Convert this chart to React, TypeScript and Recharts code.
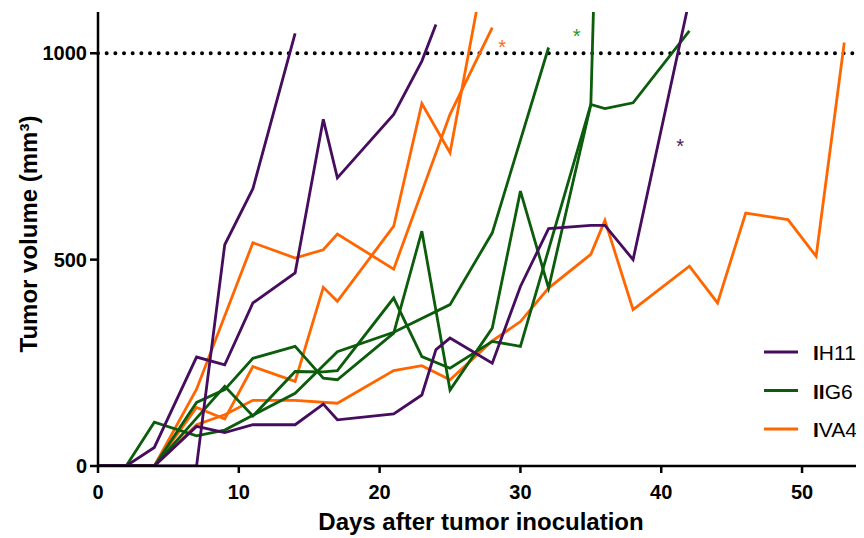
import React from 'react';
import { LineChart, Line, XAxis, YAxis, ReferenceLine, ReferenceDot, Legend, Label } from 'recharts';

const FONT = '"Liberation Sans", Arial, Helvetica, sans-serif';
const PURPLE = '#460c5e';
const GREEN = '#0b5c0b';
const ORANGE = '#ff6600';

// IH11 (purple)
const ih11aDays = [0, 2, 4, 7, 9, 11, 14];
const ih11aVol = [0, 0, 0, 0, 536, 672, 1048];
const ih11bDays = [0, 2, 4, 7, 9, 11, 14, 16, 17, 21, 23, 24];
const ih11bVol = [0, 0, 45, 264, 245, 395, 468, 840, 698, 852, 981, 1070];
const ih11cDays = [0, 2, 4, 7, 9, 11, 14, 16, 17, 21, 23, 24, 25, 28, 30, 32, 35, 36, 38, 42];
const ih11cVol = [0, 0, 0, 96, 81, 100, 100, 150, 112, 126, 172, 282, 310, 249, 435, 575, 583, 583, 500, 1130];

// IIG6 (green)
const iig6aDays = [0, 2, 4, 7, 9, 11, 14, 17, 21, 25, 28, 32];
const iig6aVol = [0, 0, 106, 73, 87, 123, 176, 277, 324, 391, 565, 1014];
const iig6bDays = [0, 2, 4, 7, 9, 11, 14, 16, 17, 21, 23, 25, 28, 30, 32, 35, 36];
const iig6bVol = [0, 0, 0, 154, 185, 261, 290, 213, 209, 322, 569, 184, 334, 666, 431, 876, 2100];
const iig6cDays = [0, 2, 4, 7, 9, 11, 14, 16, 17, 21, 23, 25, 28, 30, 35, 36, 38, 42];
const iig6cVol = [0, 0, 0, 116, 193, 121, 229, 228, 231, 407, 265, 237, 302, 290, 876, 866, 880, 1054];

// IVA4 (orange)
const iva4aDays = [0, 2, 4, 7, 11, 14, 16, 17, 21, 25, 28];
const iva4aVol = [0, 0, 0, 186, 541, 504, 524, 562, 477, 852, 1062];
const iva4bDays = [0, 2, 4, 7, 9, 11, 14, 16, 17, 21, 23, 25, 27];
const iva4bVol = [0, 0, 0, 142, 114, 241, 205, 433, 399, 581, 878, 759, 1125];
const iva4cDays = [0, 2, 4, 7, 9, 11, 14, 17, 21, 23, 25, 28, 30, 32, 35, 36, 38, 42, 44, 46, 49, 51, 53];
const iva4cVol = [0, 0, 0, 100, 124, 159, 159, 152, 231, 243, 209, 303, 350, 431, 513, 595, 379, 484, 395, 613, 597, 508, 1026];

// asterisks (day, volume)
const stars = [
  { day: 28.7, vol: 1026, color: '#ff6a10' },
  { day: 34.0, vol: 1052, color: '#1f9a1f' },
  { day: 41.35, vol: 786, color: '#4a1a66' },
];

const xTicks = [0, 10, 20, 30, 40, 50];
const yTicks = [0, 500, 1000];

const groups = [
  { numeral: 'I', rest: 'H11', color: PURPLE },
  { numeral: 'II', rest: 'G6', color: GREEN },
  { numeral: 'I', rest: 'VA4', color: ORANGE },
];

const mk = (days: number[], vol: number[]) => days.map((d, i) => ({ day: d, vol: vol[i] }));

const series = [
  { key: 'iva4a', color: ORANGE, data: mk(iva4aDays, iva4aVol) },
  { key: 'iva4b', color: ORANGE, data: mk(iva4bDays, iva4bVol) },
  { key: 'iva4c', color: ORANGE, data: mk(iva4cDays, iva4cVol) },
  { key: 'iig6a', color: GREEN, data: mk(iig6aDays, iig6aVol) },
  { key: 'iig6b', color: GREEN, data: mk(iig6bDays, iig6bVol) },
  { key: 'iig6c', color: GREEN, data: mk(iig6cDays, iig6cVol) },
  { key: 'ih11a', color: PURPLE, data: mk(ih11aDays, ih11aVol) },
  { key: 'ih11b', color: PURPLE, data: mk(ih11bDays, ih11bVol) },
  { key: 'ih11c', color: PURPLE, data: mk(ih11cDays, ih11cVol) },
];

const renderLegend = () => (
  <svg width={105} height={110}>
    {groups.map((g, i) => (
      <g key={i}>
        <line x1={8} x2={42} y1={22 + i * 38.5} y2={22 + i * 38.5} stroke={g.color} strokeWidth={3} />
        <text x={57} y={30 + i * 38.5} fontSize={21} fontFamily={FONT} fill="#000">
          <tspan fontWeight="bold">{g.numeral}</tspan>
          <tspan>{g.rest}</tspan>
        </text>
      </g>
    ))}
  </svg>
);

const App: React.FC = () => {
  return (
    <div style={{ marginLeft: -8, marginTop: -8, width: 864, height: 538, position: 'relative' }}>
      <LineChart width={864} height={538} margin={{ top: 12, right: 0, bottom: 0, left: 0 }}>
        <XAxis
          type="number"
          dataKey="day"
          domain={[0, 54.4]}
          ticks={xTicks}
          allowDuplicatedCategory={false}
          height={72}
          tickSize={7}
          tickMargin={12}
          axisLine={{ stroke: '#000', strokeWidth: 2.5 }}
          tickLine={{ stroke: '#000', strokeWidth: 2.5 }}
          tick={{ fill: '#000', fontSize: 20, fontWeight: 'bold', fontFamily: FONT }}
        >
          <Label
            content={(p: any) => {
              const { x, y, width } = p.viewBox;
              return (
                <text x={x + width / 2} y={y + 64} textAnchor="middle" fontSize={24} fontWeight="bold" fontFamily={FONT} fill="#000">
                  Days after tumor inoculation
                </text>
              );
            }}
          />
        </XAxis>
        <YAxis
          type="number"
          dataKey="vol"
          domain={[0, 1100]}
          allowDataOverflow
          ticks={yTicks}
          width={98}
          tickSize={8}
          tickMargin={3}
          axisLine={{ stroke: '#000', strokeWidth: 2.5 }}
          tickLine={{ stroke: '#000', strokeWidth: 2.5 }}
          tick={{ fill: '#000', fontSize: 20, fontWeight: 'bold', fontFamily: FONT }}
        >
          <Label
            content={(p: any) => {
              const { x, y, height } = p.viewBox;
              const cx = x + 28;
              const cy = y + height / 2 - 5;
              return (
                <text x={cx} y={cy} transform={`rotate(-90 ${cx} ${cy})`} textAnchor="middle" dominantBaseline="central" fontSize={24} fontWeight="bold" fontFamily={FONT} fill="#000">
                  Tumor volume (mm³)
                </text>
              );
            }}
          />
        </YAxis>
        <ReferenceLine y={1000} stroke="#000" strokeWidth={4} strokeDasharray="0 8.67" strokeLinecap="round" />
        {series.map(s => (
          <Line
            key={s.key}
            data={s.data}
            dataKey="vol"
            type="linear"
            stroke={s.color}
            strokeWidth={2.8}
            dot={false}
            activeDot={false}
            legendType="none"
            isAnimationActive={false}
          />
        ))}
        {stars.map((s, i) => (
          <ReferenceDot
            key={i}
            x={s.day}
            y={s.vol}
            r={0}
            shape={(p: any) => (
              <text x={p.cx} y={p.cy} dy={11} textAnchor="middle" fontSize={20} fontFamily={FONT} fill={s.color}>*</text>
            )}
          />
        ))}
        <Legend
          layout="vertical"
          align="center"
          verticalAlign="middle"
          content={renderLegend}
          wrapperStyle={{ position: 'absolute', left: 756, top: 330, width: 105, height: 110 }}
        />
      </LineChart>
    </div>
  );
};

export default App;
